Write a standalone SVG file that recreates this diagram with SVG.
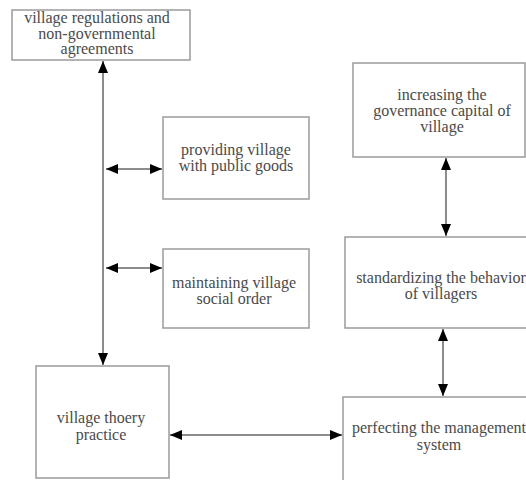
<svg xmlns="http://www.w3.org/2000/svg" width="526" height="480" viewBox="0 0 526 480">
<style>
.box{fill:#fff;stroke:#9a9a9a;stroke-width:1.5}
.t{font-family:'Liberation Serif','DejaVu Serif','Times New Roman',serif;font-size:16px;fill:#4a4a4a;text-anchor:middle}
.c{stroke:#666;stroke-width:1.5;fill:none;marker-start:url(#ah);marker-end:url(#ah)}
</style>
<defs>
<marker id="ah" viewBox="0 0 12 10" refX="12" refY="5" markerWidth="12" markerHeight="10" markerUnits="userSpaceOnUse" orient="auto-start-reverse">
<path d="M0,0 L12,5 L0,10 Z" fill="#000"/>
</marker>
</defs>
<rect width="526" height="480" fill="#fff"/>
<g id="connectors">
<line class="c" x1="103" y1="61" x2="103" y2="365"/>
<line class="c" x1="106" y1="169" x2="162" y2="169"/>
<line class="c" x1="106" y1="268" x2="162" y2="268"/>
<line class="c" x1="446" y1="158" x2="446" y2="236"/>
<line class="c" x1="443" y1="329" x2="443" y2="396"/>
<line class="c" x1="170" y1="435" x2="342" y2="435"/>
</g>
<g id="n1">
<rect class="box" x="12" y="10" width="178" height="50"/>
<text class="t" x="97" y="23">village regulations and</text>
<text class="t" x="97" y="38.5">non-governmental</text>
<text class="t" x="97" y="54">agreements</text>
</g>
<g id="n2">
<rect class="box" x="163" y="117" width="146" height="82"/>
<text class="t" x="236" y="155">providing village</text>
<text class="t" x="236" y="171">with public goods</text>
</g>
<g id="n3">
<rect class="box" x="163" y="249" width="146" height="79"/>
<text class="t" x="234" y="288">maintaining village</text>
<text class="t" x="234" y="304">social order</text>
</g>
<g id="n4">
<rect class="box" x="353" y="63" width="172" height="94"/>
<text class="t" x="442" y="100">increasing the</text>
<text class="t" x="442" y="116">governance capital of</text>
<text class="t" x="442" y="132">village</text>
</g>
<g id="n5">
<rect class="box" x="345" y="237" width="200" height="91"/>
<text class="t" x="441" y="283">standardizing the behavior</text>
<text class="t" x="441" y="299">of villagers</text>
</g>
<g id="n6">
<rect class="box" x="36" y="366" width="133" height="112"/>
<text class="t" x="101" y="423">village thoery</text>
<text class="t" x="101" y="440">practice</text>
</g>
<g id="n7">
<rect class="box" x="343" y="397" width="200" height="90"/>
<text class="t" x="439" y="433">perfecting the management</text>
<text class="t" x="439" y="450">system</text>
</g>
</svg>
